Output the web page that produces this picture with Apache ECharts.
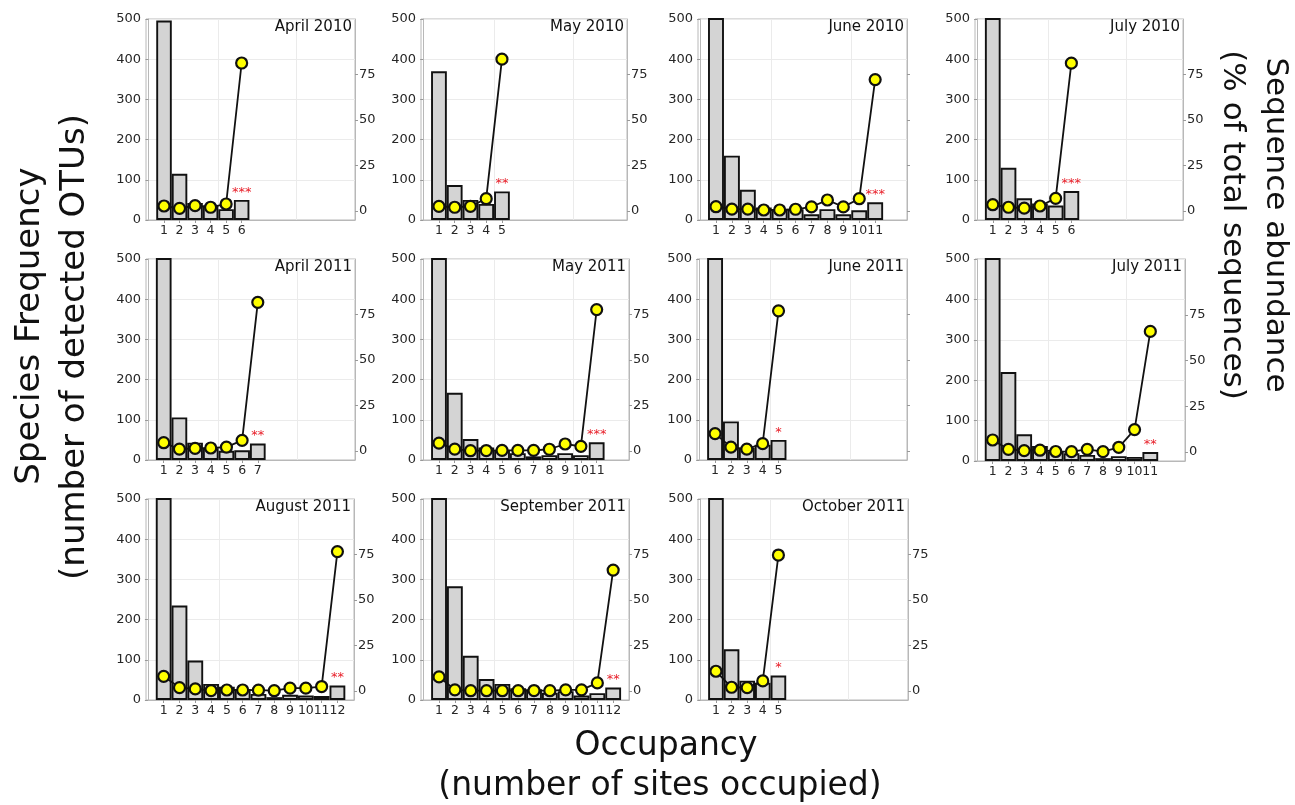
<!DOCTYPE html>
<html><head><meta charset="utf-8">
<script src="https://cdn.jsdelivr.net/npm/echarts@6/dist/echarts.min.js"></script>
<style>html,body{margin:0;padding:0;background:#fff}#c{width:1295px;height:805px}</style>
</head><body><div id="c"></div>
<script>
// ---------------- data ----------------
const panelTitles = ['April 2010','May 2010','June 2010','July 2010','April 2011','May 2011','June 2011','July 2011','August 2011','September 2011','October 2011'];
const occupancyTicks = [1,2,3,4,5,6,7,8,9,10,11,12];
const abundanceTicks = [0,25,50,75];

// species frequency (number of detected OTUs) per occupancy class
const freqApr2010 = [496,115,42,36,27,50];
const freqMay2010 = [370,87,50,40,71];
const freqJun2010 = [640,160,75,31,25,27,14,27,14,24,44];
const freqJul2010 = [620,130,54,41,36,72];
const freqApr2011 = [600,106,43,29,23,24,41];
const freqMay2011 = [650,167,52,31,25,17,9,12,17,12,44];
const freqJun2011 = [610,96,30,38,50];
const freqJul2011 = [700,220,66,37,23,19,15,7,12,10,22];
const freqAug2011 = [720,235,98,40,33,27,15,7,13,11,10,36];
const freqSep2011 = [700,283,110,52,40,29,27,18,22,11,17,31];
const freqOct2011 = [580,126,48,43,61];

// sequence abundance (% of total sequences) per occupancy class
const abApr2010 = [2.7,1.4,2.9,2.0,3.8,81.3];
const abMay2010 = [2.5,2.0,2.5,6.7,83.4];
const abJun2010 = [2.3,1.0,1.0,0.5,0.5,0.9,2.2,6.0,2.2,6.7,72.2];
const abJul2010 = [3.4,2.0,1.5,2.7,6.9,81.2];
const abApr2011 = [4.5,1.0,1.4,1.6,2.1,5.8,81.7];
const abMay2011 = [4.3,1.0,0.1,0.2,0.3,0.3,0.3,0.9,3.8,2.5,77.7];
const abJun2011 = [9.5,2.1,1.0,4.0,77.0];
const abJul2011 = [6.5,1.4,0.7,0.9,0.2,0.1,1.4,0.1,2.5,12.2,65.9];
const abAug2011 = [8.0,1.8,1.1,0.2,0.5,0.5,0.4,0.1,1.5,1.5,2.4,76.6];
const abSep2011 = [7.7,0.6,0.1,0.1,0.1,0.1,0.2,0.1,0.6,0.6,4.4,66.4];
const abOct2011 = [10.8,2.0,1.8,5.5,74.7];

const significance = ['***','**','***','***','**','***','*','**','**','**','*'];

const freqSeries = [freqApr2010,freqMay2010,freqJun2010,freqJul2010,freqApr2011,freqMay2011,freqJun2011,freqJul2011,freqAug2011,freqSep2011,freqOct2011];
const abundSeries = [abApr2010,abMay2010,abJun2010,abJul2010,abApr2011,abMay2011,abJun2011,abJul2011,abAug2011,abSep2011,abOct2011];

// ---------------- layout ----------------
const boxes = [
  [146,19,209,201],[421,19,206,201],[698,19,209,201],[975,19,208,201],
  [146,259,209,201],[421,259,208,201],[697,259,210,201],[975,259,210,202],
  [146,499,208,201],[421,499,208,201],[698,499,210,201]
];
const xRanges = [
  [-0.16,13.3],[-0.14,12.94],[-0.13,13.0],[-0.13,13.1],
  [-0.13,13.2],[-0.14,13.05],[-0.14,13.1],[-0.12,13.2],
  [-0.12,13.05],[-0.14,13.0],[-0.15,13.3]
];
const showRightLabels = [true,true,false,true,true,true,false,true,true,true,true];

const FONT = 'DejaVu Sans';
const TXT = '#262626';
const BORDER = '#b8b8b8';
const GRIDC = '#ebebeb';

const grid = [], xAxis = [], yAxis = [], series = [], title = [];
for (let i = 0; i < panelTitles.length; i++) {
  const b = boxes[i];
  const n = freqSeries[i].length;
  const ticks = occupancyTicks.slice(0, n);
  grid.push({left:b[0], top:b[1], width:b[2], height:b[3], show:true, borderColor:BORDER, borderWidth:1, backgroundColor:'#fff'});
  xAxis.push({
    gridIndex:i, type:'value', min:xRanges[i][0], max:xRanges[i][1],
    axisLine:{show:true, onZero:false, lineStyle:{color:BORDER}},
    axisTick:{show:true, customValues:ticks, length:3, lineStyle:{color:'#999'}},
    axisLabel:{customValues:ticks, color:TXT, fontFamily:FONT, fontSize:12.5, margin:4},
    splitLine:{show:false}
  });
  yAxis.push({
    gridIndex:i, type:'value', min:0, max:500, interval:100, position:'left',
    axisLine:{show:true, lineStyle:{color:BORDER}},
    axisTick:{show:true, length:3, lineStyle:{color:'#999'}},
    axisLabel:{color:TXT, fontFamily:FONT, fontSize:13, margin:5},
    splitLine:{show:true, lineStyle:{color:GRIDC, width:1}}
  });
  yAxis.push({
    gridIndex:i, type:'value', min:-5, max:105.5, position:'right',
    axisLine:{show:true, lineStyle:{color:BORDER}},
    axisTick:{show:true, customValues:abundanceTicks, length:3, lineStyle:{color:'#999'}},
    axisLabel:{show:showRightLabels[i], customValues:abundanceTicks, color:TXT, fontFamily:FONT, fontSize:13, margin:4},
    splitLine:{show:false}
  });
  const barData = freqSeries[i].map((v,k) => {
    const item = {value:[ticks[k], v]};
    if (k === n-1) item.label = {show:true, position:'top', distance:1, formatter:significance[i], color:'#e8202a', fontFamily:FONT, fontSize:13};
    return item;
  });
  series.push({
    type:'bar', xAxisIndex:i, yAxisIndex:2*i, data:barData, barWidth:'100%', z:2,
    itemStyle:{color:'#d4d4d4', borderColor:'#111', borderWidth:1.9},
    markLine:{silent:true, z:1, symbol:'none', label:{show:false}, animation:false,
      lineStyle:{color:GRIDC, type:'solid', width:1}, data:[{xAxis:4.5},{xAxis:9.5}]}
  });
  series.push({
    type:'line', xAxisIndex:i, yAxisIndex:2*i+1, z:3,
    data:abundSeries[i].map((v,k)=>[ticks[k], v]),
    symbol:'circle', symbolSize:11, showAllSymbol:true,
    lineStyle:{color:'#111', width:1.8},
    itemStyle:{color:'#ffff00', borderColor:'#111', borderWidth:2.2}
  });
  title.push({text:panelTitles[i], right:1295-(b[0]+b[2])+3, top:b[1]+1, padding:0,
    textStyle:{fontFamily:FONT, fontSize:15, fontWeight:'normal', color:'#111'}});
}

const big = {fontFamily:FONT, fontSize:33, fill:'#111', textAlign:'center', textVerticalAlign:'middle'};
const bigL = Object.assign({}, big, {fontSize:34});
const bigR = Object.assign({}, big, {fontSize:31});
const graphic = [
  {type:'text', x:30, y:326, rotation:Math.PI/2, style:Object.assign({text:'Species Frequency'}, bigL)},
  {type:'text', x:75, y:347, rotation:Math.PI/2, style:Object.assign({text:'(number of detected OTUs)'}, bigL)},
  {type:'text', x:1275, y:225, rotation:-Math.PI/2, style:Object.assign({text:'Sequence abundance'}, bigR)},
  {type:'text', x:1232, y:225, rotation:-Math.PI/2, style:Object.assign({text:'(% of total sequences)'}, bigR)},
  {type:'text', x:666, y:746, style:Object.assign({text:'Occupancy'}, big)},
  {type:'text', x:660, y:786, style:Object.assign({text:'(number of sites occupied)'}, big)}
];

const chart = echarts.init(document.getElementById('c'), null, {renderer:'canvas'});
chart.setOption({animation:false, backgroundColor:'#fff', grid, xAxis, yAxis, series, title, graphic});
</script>
</body></html>
